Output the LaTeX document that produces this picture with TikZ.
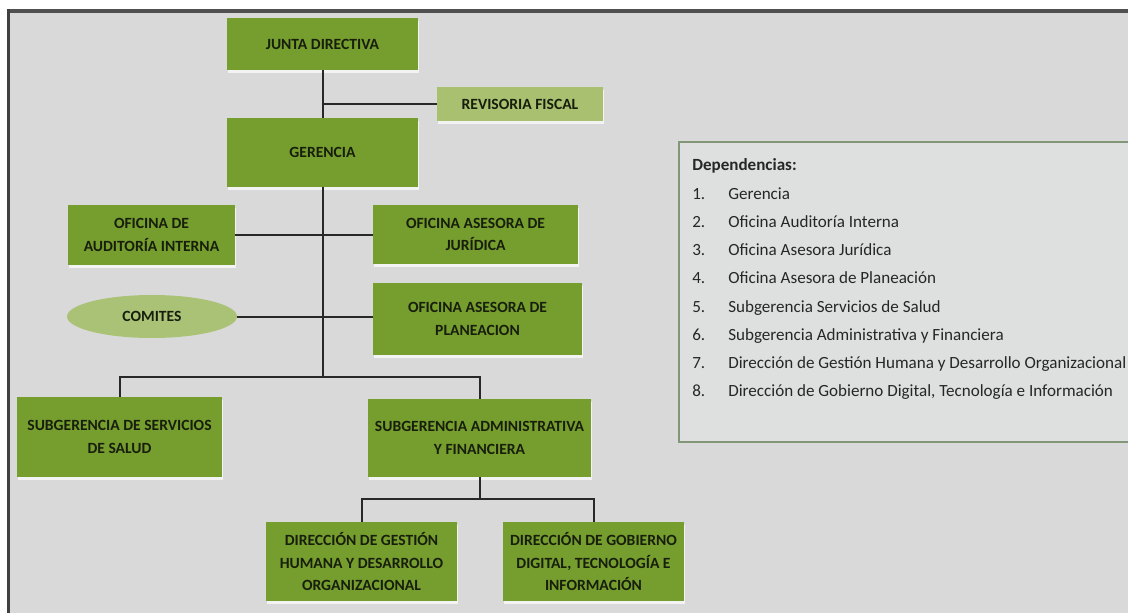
\documentclass[tikz,border=0pt]{standalone}
\usepackage{fontspec}
\setmainfont{Carlito}
\usetikzlibrary{shapes.geometric,shadows}
\definecolor{bggray}{RGB}{217,217,217}
\definecolor{framedark}{RGB}{80,80,80}
\definecolor{boxgreen}{RGB}{118,158,46}
\definecolor{lightgreen}{RGB}{168,192,112}
\definecolor{ellgreen}{RGB}{170,194,118}
\definecolor{txtdark}{RGB}{24,30,12}
\definecolor{legfill}{RGB}{222,224,224}
\definecolor{legline}{RGB}{130,150,120}
\definecolor{linedark}{RGB}{40,40,40}
\tikzset{
  orgbox/.style={rectangle, fill=boxgreen, text=txtdark, font=\bfseries\fontsize{11.7}{17}\selectfont,
    align=center, inner sep=1pt,
    drop shadow={shadow xshift=1pt, shadow yshift=-2pt, fill=white, opacity=0.7}},
  revbox/.style={orgbox, fill=lightgreen},
  ellbox/.style={ellipse, fill=ellgreen, text=txtdark, font=\bfseries\fontsize{11.7}{17}\selectfont, inner sep=0pt},
  conn/.style={draw=linedark, line width=1.5pt},
  legtext/.style={anchor=base west, inner sep=0pt, font=\fontsize{12.8}{15}\selectfont, text=black!85},
}
\begin{document}
\begin{tikzpicture}[x=0.75pt, y=-0.75pt]
\useasboundingbox (0,0) rectangle (1128,613);
\clip (0,0) rectangle (1128,613);
\fill[white] (0,0) rectangle (1128,613);
\fill[bggray] (7,9) rectangle (1130,615);
\fill[framedark] (7,9) rectangle (1130,13);
\fill[framedark!80!black] (7,9) rectangle (10,615);

% boxes
\node[orgbox, minimum width={191*0.75pt}, minimum height={52*0.75pt}] (junta) at (322.5,44) {JUNTA DIRECTIVA};
\node[revbox, minimum width={166*0.75pt}, minimum height={34*0.75pt}] (revisoria) at (520,104) {REVISORIA FISCAL};
\node[orgbox, minimum width={191*0.75pt}, minimum height={69*0.75pt}] (gerencia) at (322.5,152.5) {GERENCIA};
\node[orgbox, minimum width={167*0.75pt}, minimum height={60*0.75pt}] (auditoria) at (151.5,235) {OFICINA DE\\AUDITORÍA INTERNA};
\node[orgbox, minimum width={205*0.75pt}, minimum height={59*0.75pt}] (juridica) at (475.5,234.5) {OFICINA ASESORA DE\\JURÍDICA};
\node[ellbox, minimum width={170*0.75pt}, minimum height={43*0.75pt}] (comites) at (152,316.5) {COMITES};
\node[orgbox, minimum width={209*0.75pt}, minimum height={72*0.75pt}] (planeacion) at (477.5,319) {OFICINA ASESORA DE\\PLANEACION};
\node[orgbox, minimum width={205*0.75pt}, minimum height={80*0.75pt}] (salud) at (119.5,437) {SUBGERENCIA DE SERVICIOS\\DE SALUD};
\node[orgbox, minimum width={223*0.75pt}, minimum height={78*0.75pt}] (admin) at (479.5,438) {SUBGERENCIA ADMINISTRATIVA\\Y FINANCIERA};
\node[orgbox, minimum width={191*0.75pt}, minimum height={79*0.75pt}] (gestion) at (361.5,561.5) {DIRECCIÓN DE GESTIÓN\\HUMANA Y DESARROLLO\\ORGANIZACIONAL};
\node[orgbox, minimum width={181*0.75pt}, minimum height={79*0.75pt}] (gobierno) at (593.5,561.5) {DIRECCIÓN DE GOBIERNO\\DIGITAL, TECNOLOGÍA E\\INFORMACIÓN};

% connectors
\coordinate (trunkbot) at (322.5,377);
\coordinate (revj) at (322.5,104);
\coordinate (subl) at (119.5,377);
\coordinate (subr) at (479.5,377);
\coordinate (dirm) at (479.5,499);
\coordinate (dirl) at (361.5,499);
\coordinate (dirr) at (593.5,499);
\draw[conn] (junta.south) -- (gerencia.north);
\draw[conn] (revj) -- (revisoria.west);
\draw[conn] (gerencia.south) -- (trunkbot);
\draw[conn] (auditoria.east) -- (auditoria.east -| juridica.west);
\draw[conn] (comites.east) -- (comites.east -| planeacion.west);
\draw[conn] (salud.north) -- (subl) -- (subr) -- (admin.north);
\draw[conn] (admin.south) -- (dirm);
\draw[conn] (gestion.north) -- (dirl) -- (dirr) -- (gobierno.north);

% legend
\draw[draw=legline, line width=1.2pt, fill=legfill] (679,142) rectangle (1140,442);
\node[legtext, font=\bfseries\fontsize{12.8}{15}\selectfont] (dep) at (692,171) {Dependencias:};
\foreach \n/\t [count=\i] in {1/Gerencia, 2/Oficina Auditoría Interna, 3/Oficina Asesora Jurídica, 4/Oficina Asesora de Planeación, 5/Subgerencia Servicios de Salud, 6/Subgerencia Administrativa y Financiera, 7/Dirección de Gestión Humana y Desarrollo Organizacional, 8/{Dirección de Gobierno Digital, Tecnología e Información}}{
  \node[legtext] (num\i) at (692,{171+28.2*\i}) {\n.};
  \node[legtext] (item\i) at (728,{171+28.2*\i}) {\t};
}
\end{tikzpicture}
\end{document}
